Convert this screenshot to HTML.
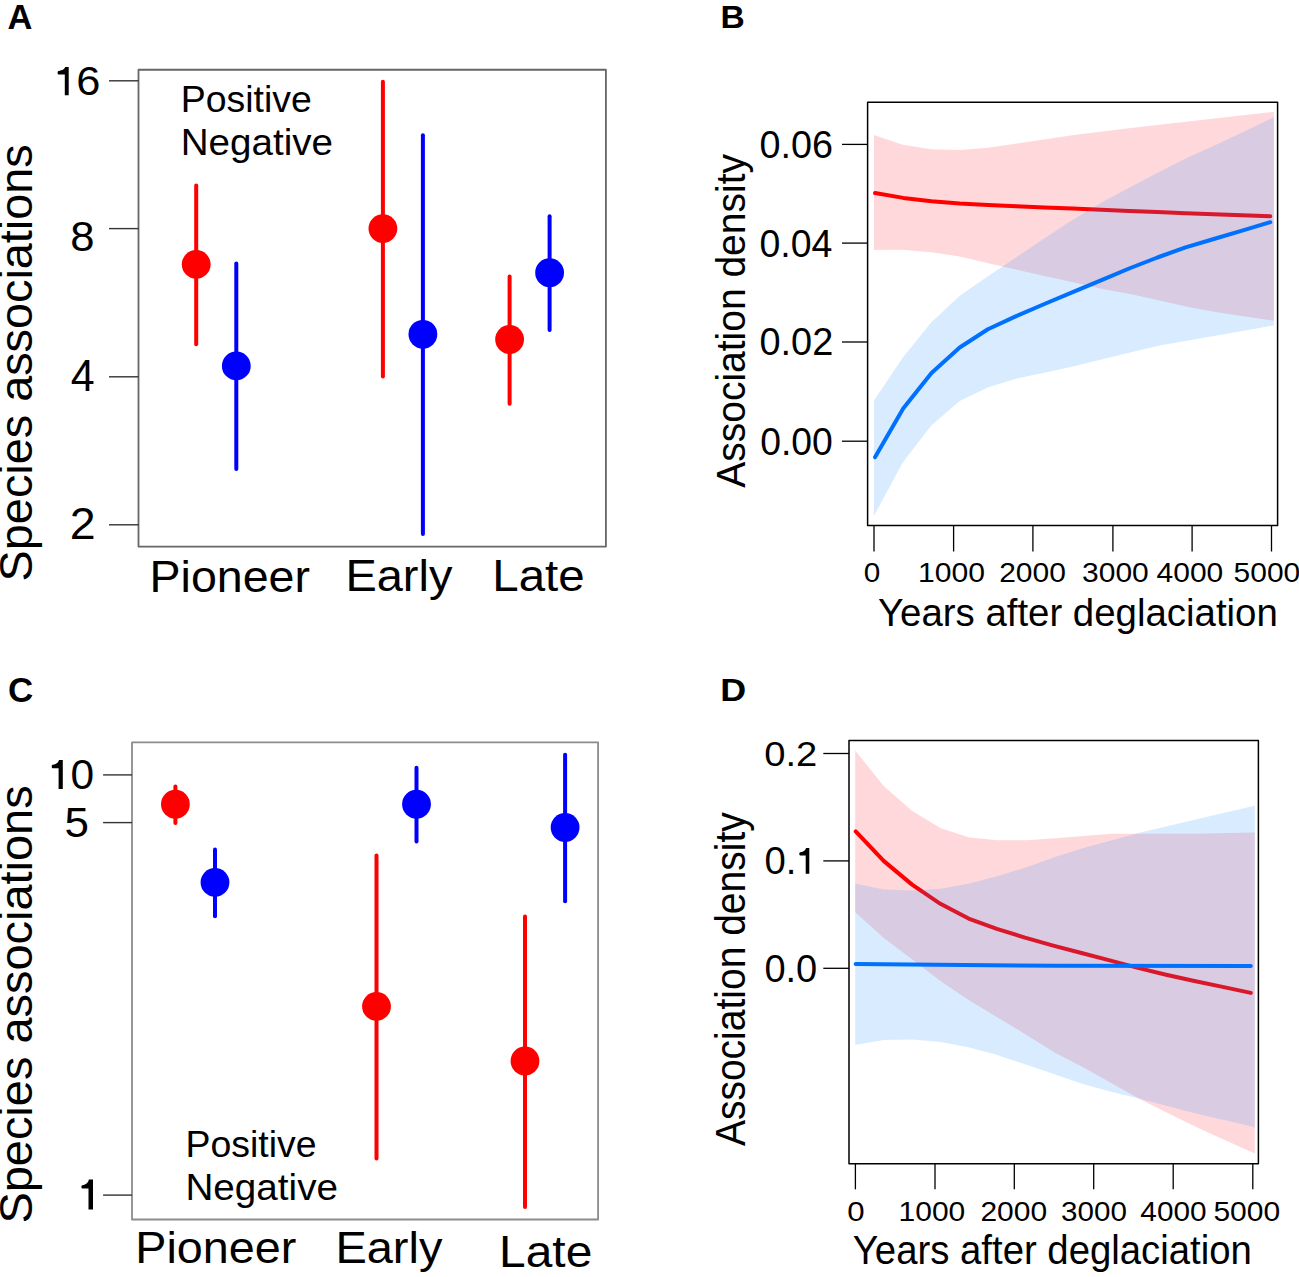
<!DOCTYPE html>
<html><head><meta charset="utf-8"><style>
html,body{margin:0;padding:0;background:#fff;overflow:hidden;}
svg{display:block;}
text{font-family:"Liberation Sans", sans-serif;}
</style></head><body>
<svg width="1299" height="1277" viewBox="0 0 1299 1277">
<rect width="1299" height="1277" fill="#fff"/>
<text transform="translate(7.44,28.60) scale(0.9959,1)" font-size="34.62" font-weight="bold" fill="#000">A</text>
<rect x="138.5" y="69.75" width="467.40" height="476.85" fill="none" stroke="#666" stroke-width="1.8" stroke-linejoin="round"/>
<line x1="109" y1="80.8" x2="138.5" y2="80.8" stroke="#333" stroke-width="1.4" stroke-linecap="butt"/>
<line x1="109" y1="228.6" x2="138.5" y2="228.6" stroke="#333" stroke-width="1.4" stroke-linecap="butt"/>
<line x1="109" y1="376.8" x2="138.5" y2="376.8" stroke="#333" stroke-width="1.4" stroke-linecap="butt"/>
<line x1="109" y1="524.8" x2="138.5" y2="524.8" stroke="#333" stroke-width="1.4" stroke-linecap="butt"/>
<path d="M68.70,67.10 L68.70,95.20 L64.80,95.20 L64.80,74.50 L58.40,74.50 Q57.60,74.50 57.60,72.70 Q57.60,70.90 58.40,70.90 C62.78,70.71 64.66,68.81 65.15,67.10 Z" fill="#000"/>
<text transform="translate(76.23,95.39) scale(1.0639,1)" font-size="40.85" fill="#000">6</text>
<text transform="translate(70.35,251.07) scale(1.0252,1)" font-size="42.54" fill="#000">8</text>
<text transform="translate(70.73,391.10) scale(0.9607,1)" font-size="44.73" fill="#000">4</text>
<text transform="translate(69.87,539.30) scale(1.0655,1)" font-size="43.73" fill="#000">2</text>
<text transform="translate(32.44,581.41) rotate(-90) scale(1.0291,1)" font-size="45.51">Species associations</text>
<text transform="translate(180.81,112.40) scale(1.0209,1)" font-size="36.65" fill="#000">Positive</text>
<text transform="translate(180.71,155.00) scale(1.0410,1)" font-size="37.09" fill="#000">Negative</text>
<text transform="translate(149.56,591.60) scale(1.0294,1)" font-size="45.24" fill="#000">Pioneer</text>
<text transform="translate(345.42,591.40) scale(1.0624,1)" font-size="44.22" fill="#000">Early</text>
<text transform="translate(492.28,591.40) scale(1.0736,1)" font-size="44.22" fill="#000">Late</text>
<line x1="196.2" y1="185.5" x2="196.2" y2="344.3" stroke="#ff0000" stroke-width="4.0" stroke-linecap="round"/>
<circle cx="196.2" cy="264.4" r="14.4" fill="#ff0000"/>
<line x1="236.3" y1="263.6" x2="236.3" y2="469.1" stroke="#0000ff" stroke-width="4.0" stroke-linecap="round"/>
<circle cx="236.3" cy="365.9" r="14.4" fill="#0000ff"/>
<line x1="382.9" y1="81.7" x2="382.9" y2="376.4" stroke="#ff0000" stroke-width="4.0" stroke-linecap="round"/>
<circle cx="382.9" cy="228.6" r="14.4" fill="#ff0000"/>
<line x1="422.9" y1="135.3" x2="422.9" y2="534.0" stroke="#0000ff" stroke-width="4.0" stroke-linecap="round"/>
<circle cx="422.9" cy="334.3" r="14.4" fill="#0000ff"/>
<line x1="509.6" y1="276.4" x2="509.6" y2="403.7" stroke="#ff0000" stroke-width="4.0" stroke-linecap="round"/>
<circle cx="509.6" cy="339.5" r="14.4" fill="#ff0000"/>
<line x1="549.6" y1="216.3" x2="549.6" y2="330.0" stroke="#0000ff" stroke-width="4.0" stroke-linecap="round"/>
<circle cx="549.6" cy="272.7" r="14.4" fill="#0000ff"/>
<text transform="translate(7.90,701.65) scale(1.0014,1)" font-size="34.91" font-weight="bold" fill="#000">C</text>
<rect x="132" y="742.3" width="466.10" height="477.20" fill="none" stroke="#8c8c8c" stroke-width="1.8" stroke-linejoin="round"/>
<line x1="103.1" y1="774.9" x2="132" y2="774.9" stroke="#333" stroke-width="1.4" stroke-linecap="butt"/>
<line x1="103.1" y1="822.6" x2="132" y2="822.6" stroke="#333" stroke-width="1.4" stroke-linecap="butt"/>
<line x1="103.1" y1="1195.1" x2="132" y2="1195.1" stroke="#333" stroke-width="1.4" stroke-linecap="butt"/>
<path d="M62.80,759.90 L62.80,789.00 L58.60,789.00 L58.60,768.20 L52.50,768.20 Q51.70,768.20 51.70,766.45 Q51.70,764.70 52.50,764.70 C56.67,764.46 58.46,762.06 58.95,759.90 Z" fill="#000"/>
<text transform="translate(70.60,788.98) scale(1.0161,1)" font-size="41.84" fill="#000">0</text>
<text transform="translate(64.54,836.97) scale(1.0333,1)" font-size="42.58" fill="#000">5</text>
<path d="M93.00,1179.60 L93.00,1209.60 L88.50,1209.60 L88.50,1188.50 L82.20,1188.50 Q81.40,1188.50 81.40,1186.85 Q81.40,1185.20 82.20,1185.20 C86.51,1184.92 88.36,1182.12 88.85,1179.60 Z" fill="#000"/>
<text transform="translate(32.44,1223.61) rotate(-90) scale(1.0315,1)" font-size="45.51">Species associations</text>
<text transform="translate(185.51,1157.40) scale(1.0218,1)" font-size="36.65" fill="#000">Positive</text>
<text transform="translate(185.41,1200.00) scale(1.0431,1)" font-size="37.09" fill="#000">Negative</text>
<text transform="translate(135.24,1263.30) scale(1.0749,1)" font-size="43.49" fill="#000">Pioneer</text>
<text transform="translate(335.42,1263.30) scale(1.0802,1)" font-size="43.49" fill="#000">Early</text>
<text transform="translate(499.05,1267.30) scale(1.0660,1)" font-size="44.95" fill="#000">Late</text>
<line x1="175.4" y1="786.6" x2="175.4" y2="823.0" stroke="#ff0000" stroke-width="4.0" stroke-linecap="round"/>
<circle cx="175.4" cy="804.2" r="14.4" fill="#ff0000"/>
<line x1="215.0" y1="849.5" x2="215.0" y2="916.2" stroke="#0000ff" stroke-width="4.0" stroke-linecap="round"/>
<circle cx="215.0" cy="882.4" r="14.4" fill="#0000ff"/>
<line x1="376.5" y1="855.5" x2="376.5" y2="1158.5" stroke="#ff0000" stroke-width="4.0" stroke-linecap="round"/>
<circle cx="376.5" cy="1006.4" r="14.4" fill="#ff0000"/>
<line x1="416.5" y1="767.8" x2="416.5" y2="841.5" stroke="#0000ff" stroke-width="4.0" stroke-linecap="round"/>
<circle cx="416.5" cy="804.2" r="14.4" fill="#0000ff"/>
<line x1="525.0" y1="916.4" x2="525.0" y2="1206.9" stroke="#ff0000" stroke-width="4.0" stroke-linecap="round"/>
<circle cx="525.0" cy="1061.0" r="14.4" fill="#ff0000"/>
<line x1="565.1" y1="754.8" x2="565.1" y2="901.2" stroke="#0000ff" stroke-width="4.0" stroke-linecap="round"/>
<circle cx="565.1" cy="827.5" r="14.4" fill="#0000ff"/>
<text transform="translate(720.43,28.30) scale(1.0847,1)" font-size="30.98" font-weight="bold" fill="#000">B</text>
<polygon points="874.0,134.9 902.6,144.8 931.1,149.3 959.7,150.1 988.3,147.7 1016.8,143.5 1045.4,139.2 1074.0,134.9 1102.5,131.5 1131.1,128.1 1159.6,124.8 1188.2,121.5 1216.8,118.3 1245.3,115.0 1273.9,111.7 1273.9,320.7 1245.3,316.5 1216.8,312.2 1188.2,307.0 1159.6,300.6 1131.1,294.2 1102.5,289.0 1074.0,282.6 1045.4,276.2 1016.8,269.8 988.3,263.2 959.7,256.4 931.1,252.2 902.6,249.7 874.0,250.0" fill="#ffd8dc"/>
<polyline points="875.0,193.0 903.2,197.9 931.5,201.2 959.7,203.5 987.9,205.1 1016.2,206.3 1044.4,207.4 1072.7,208.6 1100.9,209.8 1129.1,211.1 1157.4,212.1 1185.6,213.2 1213.8,214.2 1242.1,215.3 1270.3,216.3" fill="none" stroke="#ff0000" stroke-width="4.0" stroke-linecap="round" stroke-linejoin="round"/>
<polygon points="874.0,400.4 902.6,357.7 931.1,322.4 959.7,295.7 988.3,276.0 1016.8,256.9 1045.4,237.7 1074.0,218.9 1102.5,201.9 1131.1,186.7 1159.6,171.7 1188.2,157.3 1216.8,144.5 1245.3,131.1 1273.9,117.2 1273.9,325.5 1245.3,330.5 1216.8,335.5 1188.2,340.6 1159.6,345.6 1131.1,352.3 1102.5,359.3 1074.0,366.2 1045.4,372.4 1016.8,378.5 988.3,387.3 959.7,401.0 931.1,425.8 902.6,462.8 874.0,515.9" fill="rgba(30,144,255,0.17)"/>
<polyline points="875.0,457.2 903.2,408.6 931.5,372.9 959.7,347.5 987.9,329.2 1016.2,316.1 1044.4,304.0 1072.7,292.2 1100.9,280.4 1129.1,268.5 1157.4,257.5 1185.6,247.4 1213.8,239.0 1242.1,230.6 1270.3,222.2" fill="none" stroke="#0070ff" stroke-width="4.0" stroke-linecap="round" stroke-linejoin="round"/>
<rect x="867.6" y="102.2" width="410.00" height="423.40" fill="none" stroke="#000" stroke-width="1.5" stroke-linejoin="round"/>
<line x1="842" y1="144.4" x2="867.6" y2="144.4" stroke="#000" stroke-width="1.3" stroke-linecap="butt"/>
<line x1="842" y1="243.1" x2="867.6" y2="243.1" stroke="#000" stroke-width="1.3" stroke-linecap="butt"/>
<line x1="842" y1="342.0" x2="867.6" y2="342.0" stroke="#000" stroke-width="1.3" stroke-linecap="butt"/>
<line x1="842" y1="441.2" x2="867.6" y2="441.2" stroke="#000" stroke-width="1.3" stroke-linecap="butt"/>
<text transform="translate(759.49,158.12) scale(0.9905,1)" font-size="38.16" fill="#000">0.06</text>
<text transform="translate(759.50,256.52) scale(0.9826,1)" font-size="38.16" fill="#000">0.04</text>
<text transform="translate(759.48,355.42) scale(0.9945,1)" font-size="38.16" fill="#000">0.02</text>
<text transform="translate(760.21,454.62) scale(0.9780,1)" font-size="38.16" fill="#000">0.00</text>
<text transform="translate(745.00,487.70) rotate(-90) scale(0.9437,1)" font-size="41.31">Association density</text>
<line x1="874.0" y1="525.6" x2="874.0" y2="551.5" stroke="#000" stroke-width="1.3" stroke-linecap="butt"/>
<line x1="953.6" y1="525.6" x2="953.6" y2="551.5" stroke="#000" stroke-width="1.3" stroke-linecap="butt"/>
<line x1="1032.9" y1="525.6" x2="1032.9" y2="551.5" stroke="#000" stroke-width="1.3" stroke-linecap="butt"/>
<line x1="1112.9" y1="525.6" x2="1112.9" y2="551.5" stroke="#000" stroke-width="1.3" stroke-linecap="butt"/>
<line x1="1192.1" y1="525.6" x2="1192.1" y2="551.5" stroke="#000" stroke-width="1.3" stroke-linecap="butt"/>
<line x1="1271.5" y1="525.6" x2="1271.5" y2="551.5" stroke="#000" stroke-width="1.3" stroke-linecap="butt"/>
<text transform="translate(863.71,582.42) scale(1.0626,1)" font-size="27.99" fill="#000">0</text>
<text transform="translate(918.04,582.42) scale(1.0754,1)" font-size="27.99" fill="#000">1000</text>
<text transform="translate(999.20,582.42) scale(1.0711,1)" font-size="27.99" fill="#000">2000</text>
<text transform="translate(1082.08,582.42) scale(1.0716,1)" font-size="27.99" fill="#000">3000</text>
<text transform="translate(1156.52,582.42) scale(1.0724,1)" font-size="27.99" fill="#000">4000</text>
<text transform="translate(1233.60,582.42) scale(1.0695,1)" font-size="27.99" fill="#000">5000</text>
<text transform="translate(877.94,626.40) scale(0.9742,1)" font-size="39.42" fill="#000">Years after deglaciation</text>
<text transform="translate(720.28,700.90) scale(1.1174,1)" font-size="32.15" font-weight="bold" fill="#000">D</text>
<polygon points="855.2,750.6 883.7,786.1 912.3,811.1 940.8,828.2 969.4,837.4 997.9,840.2 1026.5,840.2 1055.0,838.2 1083.5,836.0 1112.1,833.8 1140.6,833.7 1169.2,833.7 1197.7,833.7 1226.3,833.0 1254.8,832.4 1254.8,1153.6 1226.3,1140.7 1197.7,1127.7 1169.2,1113.8 1140.6,1099.6 1112.1,1083.4 1083.5,1067.6 1055.0,1052.7 1026.5,1034.9 997.9,1017.7 969.4,1000.6 940.8,981.2 912.3,959.6 883.7,938.0 855.2,912.3" fill="#ffd8dc"/>
<polyline points="855.7,831.4 883.9,861.1 912.1,884.6 940.4,903.8 968.6,918.6 996.8,928.9 1025.0,937.6 1053.2,945.6 1081.5,953.0 1109.7,960.4 1137.9,967.9 1166.1,974.7 1194.4,981.0 1222.6,986.9 1250.8,992.9" fill="none" stroke="#ff0000" stroke-width="4.0" stroke-linecap="round" stroke-linejoin="round"/>
<polygon points="855.2,883.5 883.7,889.6 912.3,890.4 940.8,888.7 969.4,883.5 997.9,876.1 1026.5,867.2 1055.0,857.0 1083.5,848.1 1112.1,840.2 1140.6,832.5 1169.2,825.7 1197.7,819.0 1226.3,812.3 1254.8,805.7 1254.8,1127.2 1226.3,1120.6 1197.7,1114.0 1169.2,1106.6 1140.6,1099.0 1112.1,1092.0 1083.5,1084.2 1055.0,1074.6 1026.5,1064.8 997.9,1055.2 969.4,1047.5 940.8,1042.0 912.3,1039.4 883.7,1040.1 855.2,1045.1" fill="rgba(30,144,255,0.17)"/>
<polyline points="855.7,964.0 1055.0,965.8 1250.8,966.1" fill="none" stroke="#0070ff" stroke-width="4.0" stroke-linecap="round" stroke-linejoin="round"/>
<rect x="849.0" y="740.6" width="409.40" height="423.20" fill="none" stroke="#000" stroke-width="1.5" stroke-linejoin="round"/>
<line x1="823.3" y1="753.5" x2="849.0" y2="753.5" stroke="#000" stroke-width="1.3" stroke-linecap="butt"/>
<line x1="823.3" y1="860.9" x2="849.0" y2="860.9" stroke="#000" stroke-width="1.3" stroke-linecap="butt"/>
<line x1="823.3" y1="968.3" x2="849.0" y2="968.3" stroke="#000" stroke-width="1.3" stroke-linecap="butt"/>
<text transform="translate(764.27,766.25) scale(1.0755,1)" font-size="35.48" fill="#000">0.2</text>
<text transform="translate(764.47,874.02) scale(1.0034,1)" font-size="38.16" fill="#000">0.</text>
<path d="M809.30,848.00 L809.30,873.80 L805.70,873.80 L805.70,855.50 L800.10,855.50 Q799.30,855.50 799.30,853.85 Q799.30,852.20 800.10,852.20 C803.91,851.99 805.57,849.89 806.05,848.00 Z" fill="#000"/>
<text transform="translate(764.38,981.52) scale(0.9999,1)" font-size="38.02" fill="#000">0.0</text>
<text transform="translate(745.30,1146.10) rotate(-90) scale(0.9344,1)" font-size="41.75">Association density</text>
<line x1="855.4" y1="1163.8" x2="855.4" y2="1189.3" stroke="#000" stroke-width="1.3" stroke-linecap="butt"/>
<line x1="935.0" y1="1163.8" x2="935.0" y2="1189.3" stroke="#000" stroke-width="1.3" stroke-linecap="butt"/>
<line x1="1014.3" y1="1163.8" x2="1014.3" y2="1189.3" stroke="#000" stroke-width="1.3" stroke-linecap="butt"/>
<line x1="1093.7" y1="1163.8" x2="1093.7" y2="1189.3" stroke="#000" stroke-width="1.3" stroke-linecap="butt"/>
<line x1="1173.2" y1="1163.8" x2="1173.2" y2="1189.3" stroke="#000" stroke-width="1.3" stroke-linecap="butt"/>
<line x1="1252.8" y1="1163.8" x2="1252.8" y2="1189.3" stroke="#000" stroke-width="1.3" stroke-linecap="butt"/>
<text transform="translate(847.35,1220.72) scale(1.1150,1)" font-size="27.99" fill="#000">0</text>
<text transform="translate(898.55,1220.72) scale(1.0720,1)" font-size="27.99" fill="#000">1000</text>
<text transform="translate(980.40,1220.72) scale(1.0711,1)" font-size="27.99" fill="#000">2000</text>
<text transform="translate(1061.09,1220.72) scale(1.0566,1)" font-size="27.99" fill="#000">3000</text>
<text transform="translate(1140.33,1220.72) scale(1.0641,1)" font-size="27.99" fill="#000">4000</text>
<text transform="translate(1213.40,1220.72) scale(1.0728,1)" font-size="27.99" fill="#000">5000</text>
<text transform="translate(852.84,1264.20) scale(0.9581,1)" font-size="40.00" fill="#000">Years after deglaciation</text>
</svg>
</body></html>
